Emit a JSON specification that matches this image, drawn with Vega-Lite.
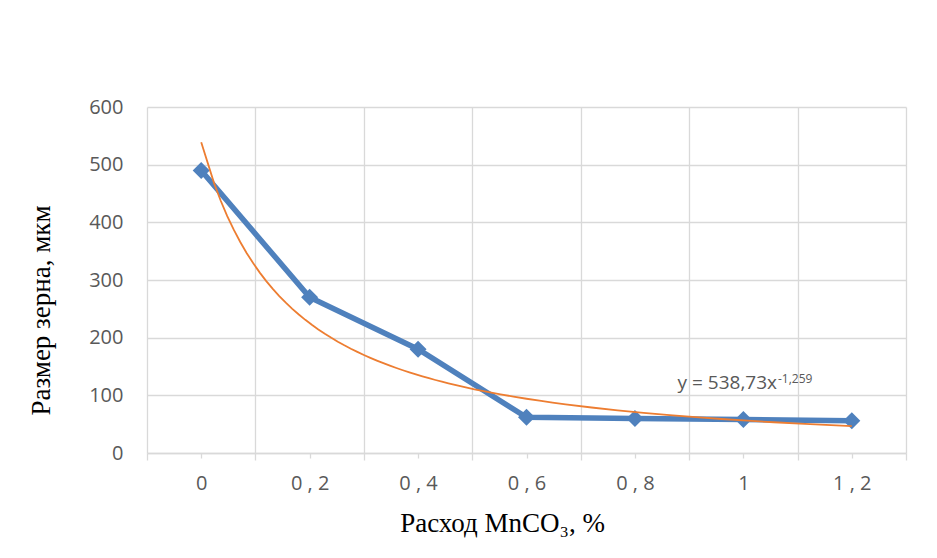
{
  "$schema": "https://vega.github.io/schema/vega-lite/v6.json",
  "width": 759,
  "height": 346,
  "autosize": {"type": "none"},
  "padding": {"left": 147, "top": 107, "right": 31, "bottom": 105},
  "background": "white",
  "config": {"view": {"stroke": null}},
  "datasets": {
    "main": [
      {"idx": 1, "pct": "0", "size": 490},
      {"idx": 2, "pct": "0,2", "size": 270},
      {"idx": 3, "pct": "0,4", "size": 180},
      {"idx": 4, "pct": "0,6", "size": 62},
      {"idx": 5, "pct": "0,8", "size": 60},
      {"idx": 6, "pct": "1", "size": 58},
      {"idx": 7, "pct": "1,2", "size": 56}
    ],
    "eq": [{"idx": 6.31, "size": 111, "text": "y = 538,73x"}],
    "eqsup": [{"idx": 6.31, "size": 122, "text": "-1,259"}]
  },
  "encoding": {
    "x": {
      "field": "idx",
      "type": "quantitative",
      "scale": {"domain": [0.5, 7.5], "nice": false, "zero": false},
      "axis": {
        "values": [0.5, 1, 1.5, 2, 2.5, 3, 3.5, 4, 4.5, 5, 5.5, 6, 6.5, 7, 7.5],
        "grid": true,
        "gridColor": "#d9d9d9",
        "gridWidth": 1.3,
        "gridOpacity": {"condition": {"test": "datum.value % 1 != 0", "value": 1}, "value": 0},
        "ticks": true,
        "tickColor": "#d9d9d9",
        "tickWidth": 1.3,
        "tickSize": {"condition": {"test": "datum.value % 1 != 0", "value": 7}, "value": 5},
        "domainColor": "#d9d9d9",
        "domainWidth": 1.3,
        "labelExpr": "datum.value % 1 != 0 ? '' : ['0','0 , 2','0 , 4','0 , 6','0 , 8','1','1 , 2'][datum.value - 1]",
        "labelFont": "Open Sans",
        "labelFontSize": 20,
        "labelColor": "#595959",
        "labelPadding": 15,
        "labelOverlap": false,
        "labelFlush": false,
        "labelBound": false,
        "title": "Расход MnCO₃, %",
        "titleFont": "Liberation Serif",
        "titleFontSize": 27,
        "titleFontWeight": "normal",
        "titleColor": "black",
        "titleX": 355,
        "titleY": 78,
        "titleAlign": "center",
        "titleBaseline": "alphabetic"
      }
    },
    "y": {
      "field": "size",
      "type": "quantitative",
      "scale": {"domain": [0, 600], "nice": false},
      "axis": {
        "values": [0, 100, 200, 300, 400, 500, 600],
        "grid": true,
        "gridColor": "#d9d9d9",
        "gridWidth": 1.3,
        "ticks": false,
        "domain": false,
        "labelFont": "Open Sans",
        "labelFontSize": 20,
        "labelColor": "#595959",
        "labelPadding": 24,
        "title": "Размер зерна, мкм",
        "titleFont": "Liberation Serif",
        "titleFontSize": 27,
        "titleFontWeight": "normal",
        "titleColor": "black",
        "titleAngle": -90,
        "titleX": -98,
        "titleY": 203,
        "titleAlign": "center",
        "titleBaseline": "alphabetic"
      }
    }
  },
  "layer": [
    {
      "data": {"name": "main"},
      "mark": {"type": "line", "color": "#4F81BD", "strokeWidth": 5.5, "point": {"shape": "diamond", "size": 290, "filled": true, "color": "#4F81BD", "opacity": 1}}
    },
    {
      "data": {"name": "main"},
      "transform": [{"regression": "size", "on": "idx", "method": "pow"}],
      "mark": {"type": "line", "color": "#ED7D31", "strokeWidth": 1.8}
    },
    {
      "data": {"name": "eq"},
      "mark": {"type": "text", "font": "Open Sans", "fontSize": 19, "color": "#595959", "align": "right", "baseline": "alphabetic"},
      "encoding": {"text": {"field": "text"}}
    },
    {
      "data": {"name": "eqsup"},
      "mark": {"type": "text", "font": "Open Sans", "fontSize": 12, "color": "#595959", "align": "left", "baseline": "alphabetic", "dx": 1},
      "encoding": {"text": {"field": "text"}}
    }
  ]
}
